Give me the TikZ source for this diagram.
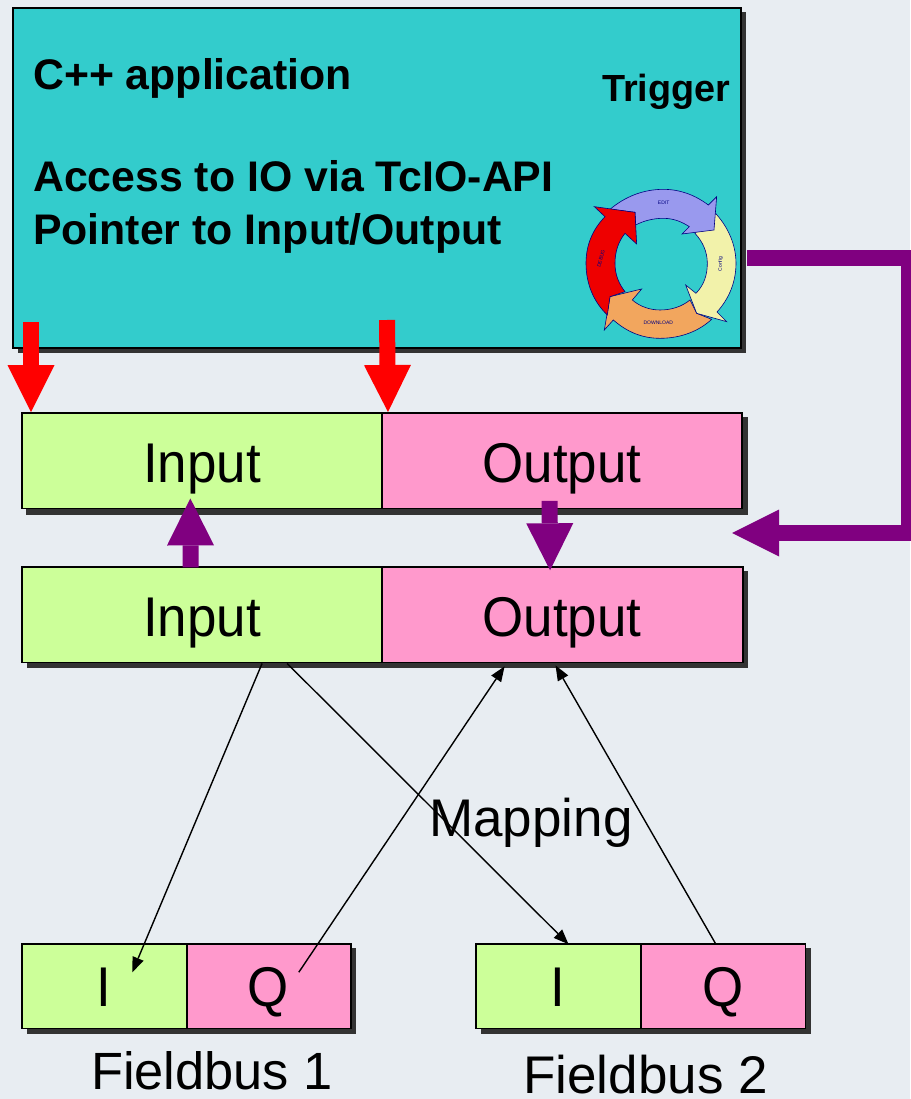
\documentclass[tikz,border=0pt]{standalone}
\usepackage{fontspec}
\setmainfont{Liberation Sans}
\newfontfamily\narrf[FakeStretch=0.945]{Liberation Sans}
\usetikzlibrary{arrows.meta,calc}
\definecolor{bgc}{HTML}{E8EDF2}
\definecolor{tealc}{HTML}{33CCCC}
\definecolor{limec}{HTML}{CCFF99}
\definecolor{pinkc}{HTML}{FF99CC}
\definecolor{shad}{HTML}{333333}
\definecolor{purp}{HTML}{800080}
\definecolor{cblue}{HTML}{9999EE}
\definecolor{cyel}{HTML}{F2F2AA}
\definecolor{cora}{HTML}{F2A65E}
\definecolor{cred}{HTML}{EE0000}
\definecolor{cline}{HTML}{000080}
\tikzset{
 x=1pt,y=-1pt,
 cell/.style={draw=black,line width=1.6pt,inner sep=0pt,anchor=north west},
 inbox/.style={cell,fill=limec},
 outbox/.style={cell,fill=pinkc},
 shadowrect/.style={fill=shad,draw=none},
 bigred/.style={draw=red,line width=16pt,-{Triangle[length=47pt,width=47pt,line width=0pt]}},
 bigpurp/.style={draw=purp,line width=16pt,-{Triangle[length=47pt,width=47pt,line width=0pt]}},
 thinarrow/.style={draw=black,line width=1.4pt,-{Triangle[length=15pt,width=12pt,line width=0pt]}},
 headtext/.style={font=\fontsize{42.8}{42.8}\selectfont\bfseries,anchor=base west,inner sep=0pt},
 captext/.style={font=\fontsize{53}{53}\selectfont,anchor=base,inner sep=0pt},
 celltext/.style={font=\narrf\fontsize{56}{56}\selectfont,anchor=base,inner sep=0pt},
 seg/.style={draw=cline,line width=0.6pt,line join=miter},
 tinylab/.style={font=\fontsize{5}{5}\selectfont,text=cline,inner sep=0pt},
}
\begin{document}
\begin{tikzpicture}
\useasboundingbox (0,0) rectangle (910,1099);
\fill[bgc] (0,0) rectangle (910,1099);
% shadows
\fill[shadowrect] (18,12) rectangle (745.5,353);
\fill[shadowrect] (26,417) rectangle (747.5,514.5);
\fill[shadowrect] (26.5,571) rectangle (748,668);
\fill[shadowrect] (26.5,948) rectangle (356,1033.5);
\fill[shadowrect] (480.5,948) rectangle (810.5,1033.5);
% main box
\node[draw=black,line width=1.6pt,fill=tealc,minimum width=728pt,minimum height=340pt,anchor=north west,inner sep=0pt] (app) at (12,7) {};
\node[headtext] (t1) at (33,90) {C++ application};
\node[headtext] (t2) at (33,192) {Access to IO via TcIO-API};
\node[headtext] (t3) at (33,244) {Pointer to Input/Output};
\node[headtext,font=\fontsize{37.8}{37.8}\selectfont\bfseries] (trig) at (602,102) {Trigger};
% cycle
\begin{scope}[shift={(570,180)},x=0.3333pt,y=-0.3333pt]
\filldraw[seg,fill=cora] (425,418) .. controls (385,455) and (330,475) .. (270,475) .. controls (215,475) and (170,455) .. (130,420) -- (103,450) -- (120,350) -- (215,327) -- (187,360) .. controls (210,380) and (240,390) .. (270,390) .. controls (305,390) and (335,380) .. (360,360) -- (380,400) -- cycle;
\filldraw[seg,fill=cyel] (432,95) .. controls (475,140) and (498,195) .. (498,250) .. controls (498,305) and (478,355) .. (441,396) -- (470,425) -- (380,400) -- (347,315) -- (378,340) .. controls (402,315) and (412,285) .. (412,250) .. controls (412,215) and (398,185) .. (375,160) -- cycle;
\filldraw[seg,fill=cblue] (120,88) .. controls (165,50) and (220,28) .. (280,28) .. controls (330,28) and (375,45) .. (415,75) -- (440,50) -- (432,150) -- (336,162) -- (358,140) .. controls (335,125) and (310,115) .. (280,115) .. controls (250,115) and (222,122) .. (197,135) -- (195,97) -- cycle;
\filldraw[seg,fill=cred] (112,405) .. controls (70,365) and (48,310) .. (48,250) .. controls (48,195) and (68,148) .. (105,110) -- (73,80) -- (195,97) -- (200,192) -- (165,160) .. controls (145,185) and (135,215) .. (135,250) .. controls (135,285) and (147,312) .. (165,335) -- (120,350) -- cycle;
\node[tinylab] (lab1) at (281,69) {EDIT};
\node[tinylab,rotate=90] (lab2) at (452,252) {Config};
\node[tinylab] (lab3) at (265,429) {DOWNLOAD};
\node[tinylab,rotate=75] (lab4) at (93,236) {DEBUG};
\end{scope}
% boxes
\node[inbox,minimum width=360pt,minimum height=95.5pt] (in1) at (21,412.3) {};
\node[outbox,minimum width=360pt,minimum height=95.5pt] (out1) at (381.3,412.3) {};
\node[inbox,minimum width=360pt,minimum height=95.5pt] (in2) at (21.3,566.3) {};
\node[outbox,minimum width=360.3pt,minimum height=95.5pt] (out2) at (381.6,566.3) {};
\node[inbox,minimum width=165pt,minimum height=84.5pt] (i1) at (21,943.2) {};
\node[outbox,minimum width=164pt,minimum height=84.5pt] (q1) at (186,943.2) {};
\node[inbox,minimum width=165pt,minimum height=84.5pt] (i2) at (475.2,943.2) {};
\node[outbox,minimum width=164.6pt,minimum height=84.5pt] (q2) at (640.2,943.2) {};
\node[celltext] (l1) at (202,482) {Input};
\node[celltext] (l2) at (562,482) {Output};
\node[celltext] (l3) at (202,636) {Input};
\node[celltext] (l4) at (562,636) {Output};
\node[celltext] (l5) at (104,1006) {I};
\node[celltext] (l6) at (268,1006) {Q};
\node[celltext] (l7) at (558,1006) {I};
\node[celltext] (l8) at (723,1006) {Q};
\node[captext,font=\fontsize{52.4}{52.4}\selectfont] (fb1) at (212,1089) {Fieldbus 1};
\node[captext] (fb2) at (645.5,1093) {Fieldbus 2};
% thin arrows
\draw[thinarrow] ($(in2.south)+(60,0)$) -- ($(i1.center)+(28,-14)$);
\draw[thinarrow] ($(in2.south)+(85,0)$) -- ($(i2.north)+(10,1)$);
\draw[thinarrow] ($(q1.center)+(30,-14)$) -- ($(out2.south)+(-58,3)$);
\draw[thinarrow] ($(q2.north)+(-8,0)$) -- ($(out2.south)+(-7,2)$);
\node[captext] (map) at (531,836) {Mapping};
% big arrows
\coordinate (r1s) at (31,322);
\coordinate (r1e) at (31,412);
\coordinate (r2s) at (387,320);
\coordinate (r2e) at (388,412);
\coordinate (p3a) at (747,258);
\coordinate (p3b) at (909,258);
\coordinate (p3c) at (909,533);
\coordinate (p3d) at (732,533);
\draw[bigred] (r1s) -- (r1e);
\draw[bigred] (r2s) -- (r2e);
\draw[bigpurp] ($(in2.north)+(-11.5,1)$) -- ($(in1.south)+(-11.5,-11)$);
\draw[bigpurp] ($(out1.south)+(-12.5,-8.5)$) -- ($(out2.north)+(-12.5,4)$);
\draw[bigpurp,line join=miter] (p3a) -- (p3b) -- (p3c) -- (p3d);
\end{tikzpicture}
\end{document}
